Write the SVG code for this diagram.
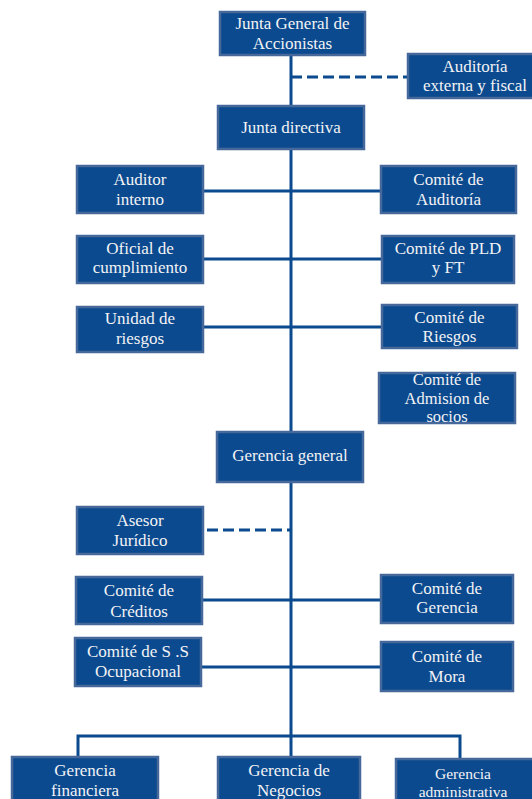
<svg xmlns="http://www.w3.org/2000/svg" width="532" height="799" viewBox="0 0 532 799">
<style>
.box{fill:#0b4a8e;stroke:#46689a;stroke-width:2.5}
.t{font-family:"Liberation Serif","Times New Roman",serif;font-size:17px;fill:#f2f3f6;text-anchor:middle}
.s{font-size:15.5px}
.m{font-size:16.5px}
.ln{stroke:#0b4a8e;stroke-width:3;fill:none}
.dash{stroke-dasharray:11 5}
</style>
<rect width="532" height="799" fill="#ffffff"/>
<g id="connectors">
<line class="ln" x1="291" y1="55" x2="291" y2="757"/>
<line class="ln dash" x1="291" y1="77" x2="408" y2="77"/>
<line class="ln" x1="203" y1="191" x2="381" y2="191"/>
<line class="ln" x1="203" y1="259" x2="382" y2="259"/>
<line class="ln" x1="203" y1="327" x2="382" y2="327"/>
<line class="ln dash" x1="207" y1="530" x2="291" y2="530"/>
<line class="ln" x1="202" y1="600" x2="381" y2="600"/>
<line class="ln" x1="201" y1="667" x2="381" y2="667"/>
<polyline class="ln" points="78,757 78,736 460,736 460,759"/>
</g>
<g id="junta-general"><rect class="box" x="220" y="12" width="145" height="43"/><text class="t" x="292.5" y="28.5">Junta General de</text><text class="t" x="292.5" y="48.5">Accionistas</text></g>
<g id="auditoria-externa"><rect class="box" x="408" y="54" width="134" height="44"/><text class="t" x="475" y="72">Auditoría</text><text class="t" x="475" y="91">externa y fiscal</text></g>
<g id="junta-directiva"><rect class="box" x="218" y="106" width="146" height="43"/><text class="t" x="291" y="132.5">Junta directiva</text></g>
<g id="auditor-interno"><rect class="box" x="77" y="166" width="126" height="47"/><text class="t" x="140" y="185">Auditor</text><text class="t" x="140" y="205">interno</text></g>
<g id="comite-auditoria"><rect class="box" x="381" y="166" width="135" height="47"/><text class="t" x="448.5" y="185">Comité de</text><text class="t" x="448.5" y="205">Auditoría</text></g>
<g id="oficial-cumplimiento"><rect class="box" x="77" y="236" width="126" height="47"/><text class="t" x="140" y="254">Oficial de</text><text class="t" x="140" y="273">cumplimiento</text></g>
<g id="comite-pld"><rect class="box" x="382" y="236" width="132" height="47"/><text class="t" x="448" y="254">Comité de PLD</text><text class="t" x="448" y="273">y FT</text></g>
<g id="unidad-riesgos"><rect class="box" x="77" y="307" width="126" height="45"/><text class="t" x="140" y="324">Unidad de</text><text class="t" x="140" y="344">riesgos</text></g>
<g id="comite-riesgos"><rect class="box" x="382" y="305" width="135" height="43"/><text class="t" x="449.5" y="323">Comité de</text><text class="t" x="449.5" y="342">Riesgos</text></g>
<g id="comite-admision"><rect class="box" x="379" y="373" width="136" height="50"/><text class="t m" x="447" y="385">Comité de</text><text class="t m" x="447" y="403.5">Admision de</text><text class="t m" x="447" y="422">socios</text></g>
<g id="gerencia-general"><rect class="box" x="217" y="432" width="146" height="50"/><text class="t" x="290" y="461">Gerencia general</text></g>
<g id="asesor-juridico"><rect class="box" x="77" y="507" width="126" height="47"/><text class="t" x="140" y="526">Asesor</text><text class="t" x="140" y="546">Jurídico</text></g>
<g id="comite-creditos"><rect class="box" x="76" y="577" width="126" height="47"/><text class="t" x="139" y="596">Comité de</text><text class="t" x="139" y="617">Créditos</text></g>
<g id="comite-gerencia"><rect class="box" x="381" y="575" width="132" height="48"/><text class="t" x="447" y="594">Comité de</text><text class="t" x="447" y="613">Gerencia</text></g>
<g id="comite-ss"><rect class="box" x="75" y="638" width="126" height="48"/><text class="t" x="138" y="657">Comité de S .S</text><text class="t" x="138" y="677">Ocupacional</text></g>
<g id="comite-mora"><rect class="box" x="381" y="642" width="132" height="49"/><text class="t" x="447" y="662">Comité de</text><text class="t" x="447" y="682">Mora</text></g>
<g id="gerencia-financiera"><rect class="box" x="12" y="757" width="146" height="50"/><text class="t" x="85" y="776">Gerencia</text><text class="t" x="85" y="796">financiera</text></g>
<g id="gerencia-negocios"><rect class="box" x="218" y="757" width="142" height="50"/><text class="t" x="289" y="776">Gerencia de</text><text class="t" x="289" y="796">Negocios</text></g>
<g id="gerencia-administrativa"><rect class="box" x="396" y="759" width="140" height="50"/><text class="t s" x="463" y="779">Gerencia</text><text class="t s" x="463" y="797">administrativa</text></g>
</svg>
